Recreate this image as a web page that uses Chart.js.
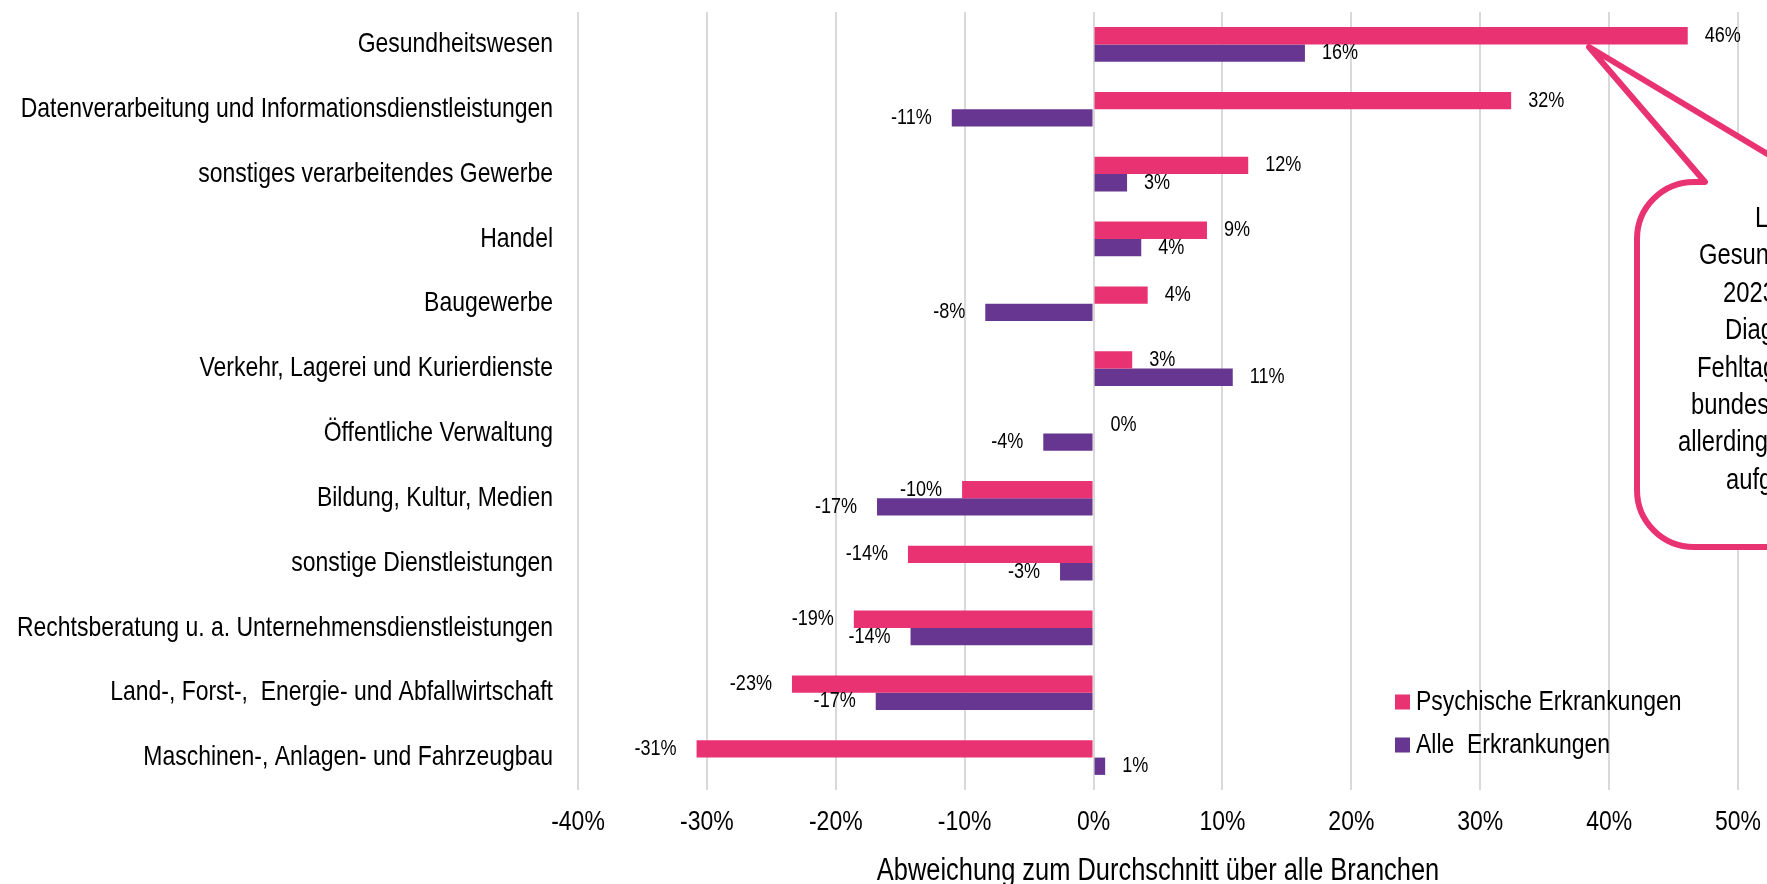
<!DOCTYPE html>
<html lang="de">
<head>
<meta charset="utf-8">
<title>Abweichung zum Durchschnitt über alle Branchen</title>
<script src="https://cdn.jsdelivr.net/npm/chart.js@4.4.1/dist/chart.umd.min.js"></script>
<style>
  html, body { margin: 0; padding: 0; background: #fff; }
  #wrap { width: 1767px; height: 884px; overflow: hidden; }
</style>
</head>
<body>
<div id="wrap"><canvas id="chart" width="1767" height="884"></canvas></div>
<script>
// Branchen (von oben nach unten)
const categories = [
    'Gesundheitswesen',
    'Datenverarbeitung und Informationsdienstleistungen',
    'sonstiges verarbeitendes Gewerbe',
    'Handel',
    'Baugewerbe',
    'Verkehr, Lagerei und Kurierdienste',
    'Öffentliche Verwaltung',
    'Bildung, Kultur, Medien',
    'sonstige Dienstleistungen',
    'Rechtsberatung u. a. Unternehmensdienstleistungen',
    'Land-, Forst-,  Energie- und Abfallwirtschaft',
    'Maschinen-, Anlagen- und Fahrzeugbau'
];

// Abweichung in %
const psychisch = [46.1, 32.4, 12.0, 8.8, 4.2, 3.0, 0.0, -10.2, -14.4, -18.6, -23.4, -30.8];
const alle      = [16.4, -11.0, 2.6, 3.7, -8.4, 10.8, -3.9, -16.8, -2.6, -14.2, -16.9, 0.9];

const seriesNames = ['Psychische Erkrankungen', 'Alle  Erkrankungen'];
const xTickLabels = ['-40%', '-30%', '-20%', '-10%', '0%', '10%', '20%', '30%', '40%', '50%'];
const xTitle = 'Abweichung zum Durchschnitt über alle Branchen';

// Sprechblase (rechts angeschnitten)
const calloutLines = ['Laut', 'Gesundheitsreport', '2023 sind die', 'Diagnosen', 'Fehltage durch',
                      'bundesweit', 'allerdings', 'aufgetreten.'];

const PINK = '#e93272';
const PURPLE = '#673690';
const GRID = '#d9d9d9';

// Narrow font check, fall back to squeezing Liberation Sans
function hasFont(name) {
    const c = document.createElement('canvas').getContext('2d');
    c.font = '40px monospace';
    const a = c.measureText('abcdefghij WWW').width;
    c.font = `40px "${name}", monospace`;
    const b = c.measureText('abcdefghij WWW').width;
    return a !== b;
}
let FAMILY = "'Liberation Sans Narrow', 'Arial Narrow', sans-serif";
if (!hasFont('Liberation Sans Narrow')) {
    FAMILY = "'Liberation Sans', Arial, sans-serif";
    const origFill = CanvasRenderingContext2D.prototype.fillText;
    CanvasRenderingContext2D.prototype.fillText = function (t, x, y) {
        this.save();
        this.translate(x, y);
        this.scale(0.82, 1);
        origFill.call(this, t, 0, 0);
        this.restore();
    };
}
Chart.defaults.font.family = FAMILY;
Chart.defaults.color = '#000';

// value labels next to bar ends
const valueLabels = {
    id: 'valueLabels',
    afterDatasetsDraw(chart) {
        const ctx = chart.ctx;
        ctx.save();
        ctx.font = `22px ${FAMILY}`;
        ctx.fillStyle = '#000';
        ctx.textBaseline = 'middle';
        chart.data.datasets.forEach((ds, di) => {
            chart.getDatasetMeta(di).data.forEach((bar, i) => {
                const v = ds.data[i];
                const txt = Math.round(v) + '%';
                if (v < 0) {
                    ctx.textAlign = 'right';
                    ctx.fillText(txt, bar.x - 20, bar.y);
                } else {
                    ctx.textAlign = 'left';
                    ctx.fillText(txt, bar.x + 17, bar.y);
                }
            });
        });
        ctx.restore();
    }
};

// legend inside the plot, bottom right
const innerLegend = {
    id: 'innerLegend',
    afterDraw(chart) {
        const ctx = chart.ctx;
        ctx.save();
        ctx.font = `28px ${FAMILY}`;
        ctx.textBaseline = 'middle';
        ctx.textAlign = 'left';
        chart.data.datasets.forEach((ds, i) => {
            const y = 702 + i * 43;
            ctx.fillStyle = ds.backgroundColor;
            ctx.fillRect(1395, y - 7.5, 15, 15);
            ctx.fillStyle = '#000';
            ctx.fillText(ds.label, 1416, y);
        });
        ctx.restore();
    }
};

// speech bubble pointing at the Gesundheitswesen bar
const callout = {
    id: 'callout',
    afterDraw(chart) {
        const ctx = chart.ctx;
        const L = 1637, T = 182, B = 547, R = 1927, r = 57;
        ctx.save();
        ctx.beginPath();
        ctx.moveTo(1814, T);
        ctx.lineTo(1589, 47);
        ctx.lineTo(1705, T);
        ctx.lineTo(L + r, T);
        ctx.arcTo(L, T, L, T + r, r);
        ctx.lineTo(L, B - r);
        ctx.arcTo(L, B, L + r, B, r);
        ctx.lineTo(R - r, B);
        ctx.arcTo(R, B, R, B - r, r);
        ctx.lineTo(R, T + r);
        ctx.arcTo(R, T, R - r, T, r);
        ctx.closePath();
        ctx.fillStyle = '#fff';
        ctx.fill();
        ctx.lineWidth = 6;
        ctx.lineJoin = 'round';
        ctx.strokeStyle = PINK;
        ctx.stroke();

        const starts = [1755, 1699, 1723, 1725, 1697, 1691, 1678, 1726];
        ctx.font = `29px ${FAMILY}`;
        ctx.fillStyle = '#000';
        ctx.textAlign = 'left';
        ctx.textBaseline = 'middle';
        calloutLines.forEach((line, i) => {
            ctx.fillText(line, starts[i], 219 + i * 37.4);
        });
        ctx.restore();
    }
};

new Chart(document.getElementById('chart').getContext('2d'), {
    type: 'bar',
    data: {
        labels: categories,
        datasets: [
            { label: seriesNames[0], data: psychisch, backgroundColor: PINK },
            { label: seriesNames[1], data: alle, backgroundColor: PURPLE }
        ]
    },
    options: {
        indexAxis: 'y',
        responsive: false,
        animation: false,
        layout: { padding: { top: 12, right: 29, left: 0, bottom: 0 } },
        datasets: { bar: { categoryPercentage: 0.534, barPercentage: 1.0 } },
        plugins: {
            legend: { display: false },
            tooltip: { enabled: false }
        },
        scales: {
            x: {
                min: -40,
                max: 50,
                ticks: {
                    stepSize: 10,
                    padding: 15,
                    font: { size: 28 },
                    color: '#000',
                    callback: (v, i) => xTickLabels[i]
                },
                grid: { color: GRID, lineWidth: 2, drawTicks: false },
                border: { display: false },
                title: {
                    display: true,
                    text: xTitle,
                    color: '#000',
                    font: { size: 31, lineHeight: 0.8 },
                    padding: { top: 0, bottom: 0 }
                },
                afterFit: s => {
                    s.height = 94;
                    s.paddingLeft = 0;
                    s.paddingRight = 0;
                }
            },
            y: {
                ticks: { padding: 25, font: { size: 28 }, color: '#000' },
                grid: { display: false, drawTicks: false },
                border: { display: false },
                afterFit: s => {
                    s.width = 578;
                    s.paddingTop = 0;
                    s.paddingBottom = 0;
                }
            }
        }
    },
    plugins: [valueLabels, innerLegend, callout]
});
</script>
</body>
</html>
